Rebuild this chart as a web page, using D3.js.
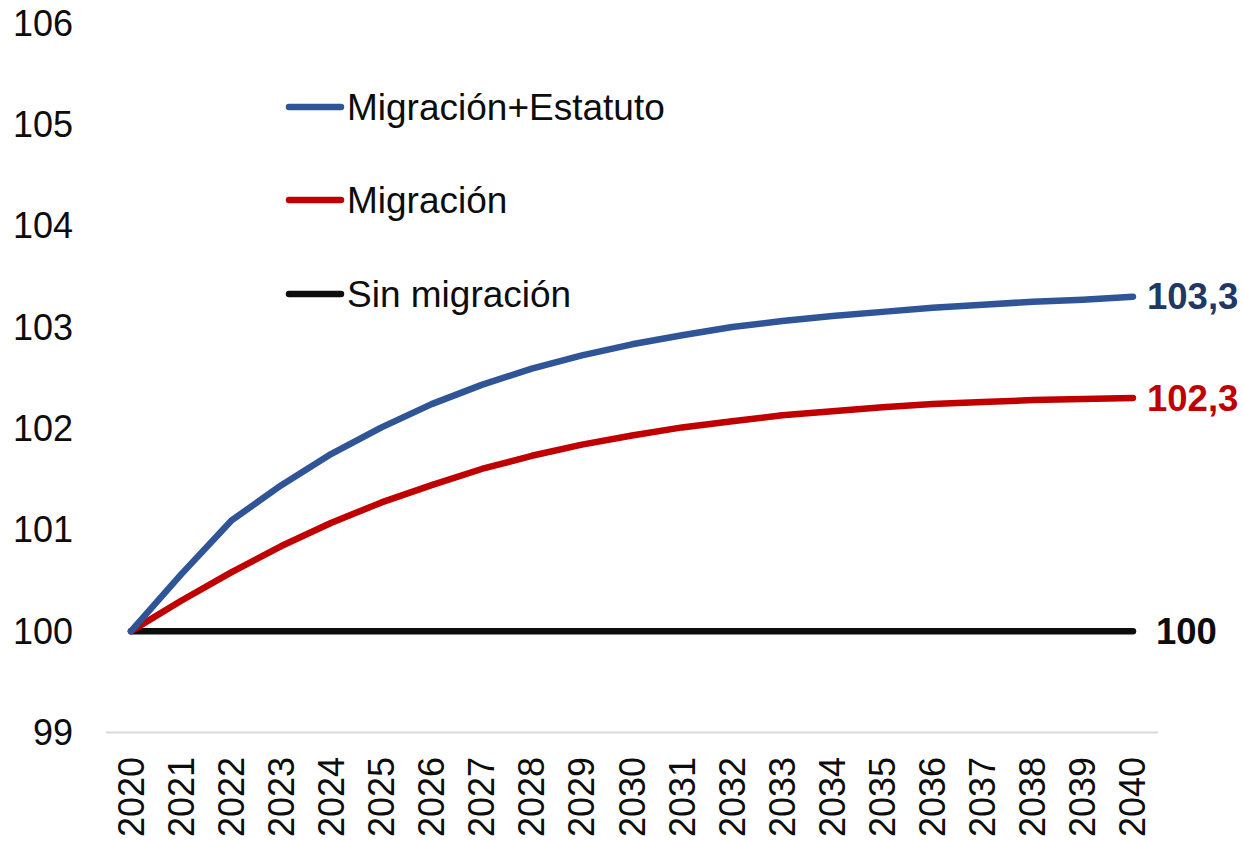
<!DOCTYPE html>
<html>
<head>
<meta charset="utf-8">
<script src="https://cdn.jsdelivr.net/npm/d3@7"></script>
<style>
  html, body { margin: 0; padding: 0; background: #ffffff; }
  svg { display: block; font-family: "Liberation Sans", Arial, sans-serif; }
</style>
</head>
<body>
<svg id="chart" width="1243" height="841"></svg>
<script>
// Years on the horizontal axis
const years = ["2020","2021","2022","2023","2024","2025","2026","2027","2028","2029","2030",
               "2031","2032","2033","2034","2035","2036","2037","2038","2039","2040"];

// Index, 2020 = 100
const migracionEstatuto = [100, 100.56, 101.09, 101.44, 101.75, 102.01, 102.24, 102.43, 102.59, 102.72, 102.83,
                           102.92, 103.00, 103.06, 103.11, 103.15, 103.19, 103.22, 103.25, 103.27, 103.30];
const migracion = [100, 100.30, 100.58, 100.84, 101.07, 101.27, 101.44, 101.60, 101.73, 101.84, 101.93,
                   102.01, 102.07, 102.13, 102.17, 102.21, 102.24, 102.26, 102.28, 102.29, 102.30];
const sinMigracion = years.map(() => 100);

const yTicks = [99, 100, 101, 102, 103, 104, 105, 106];

const seriesNames = ["Migración+Estatuto", "Migración", "Sin migración"];
const endLabels = ["103,3", "102,3", "100"];

const series = [
  { name: seriesNames[0], values: migracionEstatuto, color: "#2F5597", labelColor: "#203864", label: endLabels[0] },
  { name: seriesNames[1], values: migracion, color: "#C00000", labelColor: "#C00000", label: endLabels[1] },
  { name: seriesNames[2], values: sinMigracion, color: "#0d0d0d", labelColor: "#0d0d0d", label: endLabels[2] }
];

const svg = d3.select("#chart");

const x = d3.scalePoint().domain(years).range([106, 1158]).padding(0.5);
const y = d3.scaleLinear().domain([99, 106]).range([732.5, 23]);

// y tick labels (no axis line, no ticks)
svg.append("g")
  .selectAll("text")
  .data(yTicks)
  .join("text")
  .attr("x", 73)
  .attr("y", d => y(d))
  .attr("text-anchor", "end")
  .attr("dominant-baseline", "central")
  .attr("font-size", 36)
  .attr("fill", "#0d0d0d")
  .text(d => d);

// x axis baseline
svg.append("line")
  .attr("x1", 106).attr("x2", 1158)
  .attr("y1", y(99)).attr("y2", y(99))
  .attr("stroke", "#d9d9d9")
  .attr("stroke-width", 2);

// rotated year labels
svg.append("g")
  .selectAll("text")
  .data(years)
  .join("text")
  .attr("transform", d => `translate(${x(d)},757) rotate(-90)`)
  .attr("text-anchor", "end")
  .attr("dominant-baseline", "central")
  .attr("font-size", 36)
  .attr("fill", "#0d0d0d")
  .text(d => d);

const line = d3.line()
  .x((d, i) => x(years[i]))
  .y(d => y(d));

// draw the baseline series first so the others sit on top
const drawOrder = [series[2], series[1], series[0]];
svg.append("g")
  .selectAll("path")
  .data(drawOrder)
  .join("path")
  .attr("d", d => line(d.values))
  .attr("fill", "none")
  .attr("stroke", d => d.color)
  .attr("stroke-width", 6.5)
  .attr("stroke-linecap", "round")
  .attr("stroke-linejoin", "round");

// end-of-line value labels
svg.append("g")
  .selectAll("text")
  .data(series)
  .join("text")
  .attr("x", (d, i) => i === 2 ? 1156 : 1147)
  .attr("y", d => y(d.values[d.values.length - 1]))
  .attr("dominant-baseline", "central")
  .attr("font-size", 36.5)
  .attr("font-weight", "bold")
  .attr("fill", d => d.labelColor)
  .text(d => d.label);

// legend
const legendRows = [107, 200, 294];
const legend = svg.append("g")
  .selectAll("g")
  .data(series)
  .join("g")
  .attr("transform", (d, i) => `translate(0,${legendRows[i]})`);

legend.append("line")
  .attr("x1", 289).attr("x2", 341)
  .attr("y1", 0).attr("y2", 0)
  .attr("stroke", d => d.color)
  .attr("stroke-width", 6.5)
  .attr("stroke-linecap", "round");

legend.append("text")
  .attr("x", 347)
  .attr("y", 0)
  .attr("dominant-baseline", "central")
  .attr("font-size", 37)
  .attr("fill", "#0d0d0d")
  .text(d => d.name);
</script>
</body>
</html>
